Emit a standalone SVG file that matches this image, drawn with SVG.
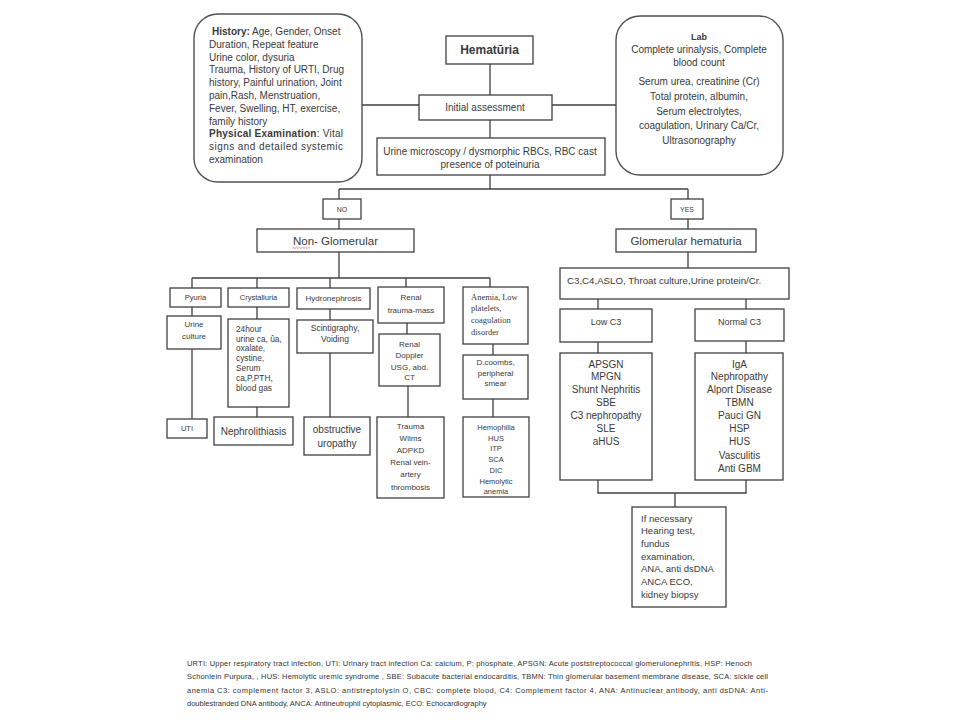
<svg xmlns="http://www.w3.org/2000/svg" width="960" height="720" viewBox="0 0 960 720">
<style>
.bx{fill:#fff;stroke:#404040;stroke-width:1.3}
.rb{fill:#fff;stroke:#505050;stroke-width:1.4}
.ln{fill:none;stroke:#404040;stroke-width:1.3}
text{font-family:"Liberation Sans",Arial,sans-serif;fill:#3a3a3a}
.c{text-anchor:middle}
.sf{font-family:"Liberation Serif","Times New Roman",serif}
.f10{font-size:10px}
.f9{font-size:9.5px}
.f8{font-size:8px}
.f75{font-size:7.5px}
.fn{font-size:7.5px;fill:#333}
</style>
<rect width="960" height="720" fill="#fff"/>

<g id="connectors">
<path class="ln" d="M490,64V95M362,105H419M552,105H616M490,120V138M490,175V189M339,189H688M339,189V199M339,219V229M688,189V199M688,219V229"/>
<path class="ln" d="M339,252V278M192,278H490M192,278V288M257,278V288M330,278V288M406,278V287M490,278V287"/>
<path class="ln" d="M192,307V316M192,349V419M257,307V319M257,407V417M330,309V320M330,353V417M407,323V334M408,386V417M493,344V355M493,399V417"/>
<path class="ln" d="M688,252V268M598,299V309M746,299V309M598,342V353M746,341V353M598,480V493H746V480M675,493V507"/>
</g>

<g id="history">
<rect class="rb" x="194" y="14" width="168" height="168" rx="24"/>
<text class="f10" x="212" y="35"><tspan font-weight="bold">History:</tspan> Age, Gender, Onset</text>
<text class="f10" x="209" y="47.8">Duration, Repeat feature</text>
<text class="f10" x="209" y="60.6">Urine color, dysuria</text>
<text class="f10" x="209" y="73.4">Trauma, History of URTI, Drug</text>
<text class="f10" x="209" y="86.2">history, Painful urination, Joint</text>
<text class="f10" x="209" y="99">pain,Rash, Menstruation,</text>
<text class="f10" x="209" y="111.8">Fever, Swelling, HT, exercise,</text>
<text class="f10" x="209" y="124.6">family history</text>
<text class="f10" x="209" y="137.4" textLength="134" lengthAdjust="spacing"><tspan font-weight="bold">Physical Examination</tspan>: Vital</text>
<text class="f10" x="209" y="150.2" textLength="134" lengthAdjust="spacing">signs and detailed systemic</text>
<text class="f10" x="209" y="163">examination</text>
</g>

<g id="hematuria">
<rect class="bx" x="446" y="36" width="87" height="28"/>
<text class="c" x="489.5" y="54" font-size="12" font-weight="bold">Hematūria</text>
</g>

<g id="initial">
<rect class="bx" x="419" y="95" width="133" height="25"/>
<text class="c f10" x="485" y="111">Initial assessment</text>
</g>

<g id="lab">
<rect class="rb" x="616" y="16" width="167" height="159" rx="24"/>
<text class="c" x="699" y="40" font-size="9" font-weight="bold">Lab</text>
<text class="c f10" x="699" y="53">Complete urinalysis, Complete</text>
<text class="c f10" x="699" y="65.5">blood count</text>
<text class="c f10" x="699" y="85">Serum urea, creatinine (Cr)</text>
<text class="c f10" x="699" y="99.5">Total protein, albumin,</text>
<text class="c f10" x="699" y="114.5">Serum electrolytes,</text>
<text class="c f10" x="699" y="129">coagulation, Urinary Ca/Cr,</text>
<text class="c f10" x="699" y="143.5">Ultrasonography</text>
</g>

<g id="urine-microscopy">
<rect class="bx" x="377" y="138" width="228" height="37"/>
<text class="c f10" x="490" y="155">Urine microscopy / dysmorphic RBCs, RBC cast</text>
<text class="c f10" x="490" y="168">presence of poteinuria</text>
</g>

<g id="no">
<rect class="bx" x="323" y="199" width="38" height="20"/>
<text class="c" x="342" y="212" font-size="7">NO</text>
</g>

<g id="yes">
<rect class="bx" x="671" y="199" width="32" height="20"/>
<text class="c" x="687" y="212" font-size="7">YES</text>
</g>

<g id="non-glomerular">
<rect class="bx" x="257" y="229" width="157" height="23"/>
<text class="c" x="335.5" y="245" font-size="11.5">Non- Glomerular</text>
<path d="M292,248.5l1.5,-1.2l1.5,1.2l1.5,-1.2l1.5,1.2l1.5,-1.2l1.5,1.2l1.5,-1.2l1.5,1.2l1.5,-1.2l1.5,1.2l1.5,-1.2l1.5,1.2" fill="none" stroke="#e06060" stroke-width="0.7"/>
</g>

<g id="glomerular">
<rect class="bx" x="616" y="229" width="140" height="23"/>
<text class="c" x="686" y="245" font-size="11.5">Glomerular hematuria</text>
</g>

<g id="pyuria">
<rect class="bx" x="170" y="288" width="51" height="19"/>
<text class="c f75" x="195.5" y="300">Pyuria</text>
</g>
<g id="urine-culture">
<rect class="bx" x="167" y="316" width="54" height="33"/>
<text class="c f8" x="194" y="326.5">Urine</text>
<text class="c f8" x="194" y="339">culture</text>
</g>
<g id="uti">
<rect class="bx" x="167" y="419" width="40" height="19"/>
<text class="c f75" x="187" y="431">UTI</text>
</g>

<g id="crystalluria">
<rect class="bx" x="228" y="288" width="61" height="19"/>
<text class="c f75" x="258.5" y="300">Crystalluria</text>
</g>
<g id="urine-tests">
<rect class="bx" x="228" y="319" width="61" height="88"/>
<text font-size="8.3" x="236" y="332">24hour</text>
<text font-size="8.3" x="236" y="341.7">urine ca, ûa,</text>
<text font-size="8.3" x="236" y="351.4">oxalate,</text>
<text font-size="8.3" x="236" y="361.1">cystine,</text>
<text font-size="8.3" x="236" y="370.8">Serum</text>
<text font-size="8.3" x="236" y="380.5">ca,P,PTH,</text>
<text font-size="8.3" x="236" y="391">blood gas</text>
</g>
<g id="nephrolithiasis">
<rect class="bx" x="214" y="417" width="79" height="28"/>
<text class="c f10" x="253.5" y="434.5">Nephrolithiasis</text>
</g>

<g id="hydronephrosis">
<rect class="bx" x="297" y="288" width="73" height="21"/>
<text class="c f8" x="333.5" y="301">Hydronephrosis</text>
</g>
<g id="scintigraphy">
<rect class="bx" x="297" y="320" width="76" height="33"/>
<text class="c" font-size="8.5" x="335" y="331">Scintigraphy,</text>
<text class="c" font-size="8.5" x="335" y="342">Voiding</text>
</g>
<g id="obstructive">
<rect class="bx" x="304" y="417" width="66" height="38"/>
<text class="c f10" x="337" y="432.5">obstructive</text>
<text class="c f10" x="337" y="446.5">uropathy</text>
</g>

<g id="renal-trauma">
<rect class="bx" x="378" y="287" width="66" height="36"/>
<text class="c f8" x="411" y="300">Renal</text>
<text class="c f8" x="411" y="312.5">trauma-mass</text>
</g>
<g id="renal-doppler">
<rect class="bx" x="379" y="334" width="61" height="52"/>
<text class="c f8" x="409.5" y="346.5">Renal</text>
<text class="c f8" x="409.5" y="358">Doppler</text>
<text class="c f8" x="409.5" y="369.5">USG, abd.</text>
<text class="c f8" x="409.5" y="379.5">CT</text>
</g>
<g id="trauma-list">
<rect class="bx" x="377" y="417" width="67" height="81"/>
<text class="c f8" x="410.5" y="428.5">Trauma</text>
<text class="c f8" x="410.5" y="441">Wilms</text>
<text class="c f8" x="410.5" y="453">ADPKD</text>
<text class="c f8" x="410.5" y="465">Renal vein-</text>
<text class="c f8" x="410.5" y="477">artery</text>
<text class="c f8" x="410.5" y="489.5">thrombosis</text>
</g>

<g id="anemia">
<rect class="bx" x="463" y="287" width="65" height="57"/>
<text class="sf" font-size="8.5" x="471" y="300">Anemia, Low</text>
<text class="sf" font-size="8.5" x="471" y="311">platelets,</text>
<text class="sf" font-size="8.5" x="471" y="323">coagulation</text>
<text class="sf" font-size="8.5" x="471" y="335">disorder</text>
</g>
<g id="coombs">
<rect class="bx" x="463" y="355" width="65" height="44"/>
<text class="c f8" x="495.5" y="365">D.coombs,</text>
<text class="c f8" x="495.5" y="375.5">peripheral</text>
<text class="c f8" x="495.5" y="385.5">smear</text>
</g>
<g id="hemophilia-list">
<rect class="bx" x="463" y="417" width="66" height="80"/>
<text class="c f75" x="496" y="429.5">Hemophilia</text>
<text class="c f75" x="496" y="440.5">HUS</text>
<text class="c f75" x="496" y="451">ITP</text>
<text class="c f75" x="496" y="462">SCA</text>
<text class="c f75" x="496" y="472.5">DIC</text>
<text class="c f75" x="496" y="483.5">Hemolytic</text>
<text class="c f75" x="496" y="493.5">anemia</text>
</g>

<g id="c3c4">
<rect class="bx" x="560" y="268" width="229" height="31"/>
<text x="567" y="283.5" font-size="9.7">C3,C4,ASLO, Throat culture,Urine protein/Cr.</text>
</g>
<g id="low-c3">
<rect class="bx" x="560" y="309" width="92" height="33"/>
<text class="c" font-size="9" x="606" y="325">Low C3</text>
</g>
<g id="normal-c3">
<rect class="bx" x="695" y="309" width="89" height="32"/>
<text class="c" font-size="9" x="739.5" y="325">Normal C3</text>
</g>
<g id="low-c3-list">
<rect class="bx" x="560" y="353" width="92" height="127"/>
<text class="c f10" x="606" y="367.5">APSGN</text>
<text class="c f10" x="606" y="380.2">MPGN</text>
<text class="c f10" x="606" y="392.8">Shunt Nephritis</text>
<text class="c f10" x="606" y="406.2">SBE</text>
<text class="c f10" x="606" y="418.8">C3 nephropathy</text>
<text class="c f10" x="606" y="431.8">SLE</text>
<text class="c f10" x="606" y="445.2">aHUS</text>
</g>
<g id="normal-c3-list">
<rect class="bx" x="695" y="353" width="88" height="127"/>
<text class="c f10" x="739.5" y="367.5">IgA</text>
<text class="c f10" x="739.5" y="380.2">Nephropathy</text>
<text class="c f10" x="739.5" y="392.8">Alport Disease</text>
<text class="c f10" x="739.5" y="406.2">TBMN</text>
<text class="c f10" x="739.5" y="418.8">Pauci GN</text>
<text class="c f10" x="739.5" y="431.8">HSP</text>
<text class="c f10" x="739.5" y="445.2">HUS</text>
<text class="c f10" x="739.5" y="458.5">Vasculitis</text>
<text class="c f10" x="739.5" y="471.8">Anti GBM</text>
</g>
<g id="if-necessary">
<rect class="bx" x="632" y="507" width="94" height="100"/>
<text class="f9" x="641" y="521.5">If necessary</text>
<text class="f9" x="641" y="534">Hearing test,</text>
<text class="f9" x="641" y="546.5">fundus</text>
<text class="f9" x="641" y="559.5">examination,</text>
<text class="f9" x="641" y="572">ANA, anti dsDNA</text>
<text class="f9" x="641" y="584.5">ANCA ECO,</text>
<text class="f9" x="641" y="597.5">kidney biopsy</text>
</g>

<g id="footnote">
<text class="fn" x="187" y="665.5" textLength="565" lengthAdjust="spacing">URTI: Upper respiratory tract infection, UTI: Urinary tract infection Ca: calcium, P: phosphate, APSGN: Acute poststreptococcal glomerulonephritis, HSP: Henoch</text>
<text class="fn" x="187" y="679" textLength="581" lengthAdjust="spacing">Schonlein Purpura, , HUS: Hemolytic uremic syndrome , SBE: Subacute bacterial endocarditis, TBMN: Thin glomerular basement membrane disease, SCA: sickle cell</text>
<text class="fn" x="187" y="692.5" textLength="581" lengthAdjust="spacing">anemia C3: complement factor 3,  ASLO: antistreptolysin O, CBC: complete blood, C4: Complement factor 4, ANA: Antinuclear antibody, anti dsDNA: Anti-</text>
<text class="fn" x="187" y="705.5">doublestranded DNA antibody, ANCA: Antineutrophil cytoplasmic, ECO: Echocardiography</text>
</g>
</svg>
